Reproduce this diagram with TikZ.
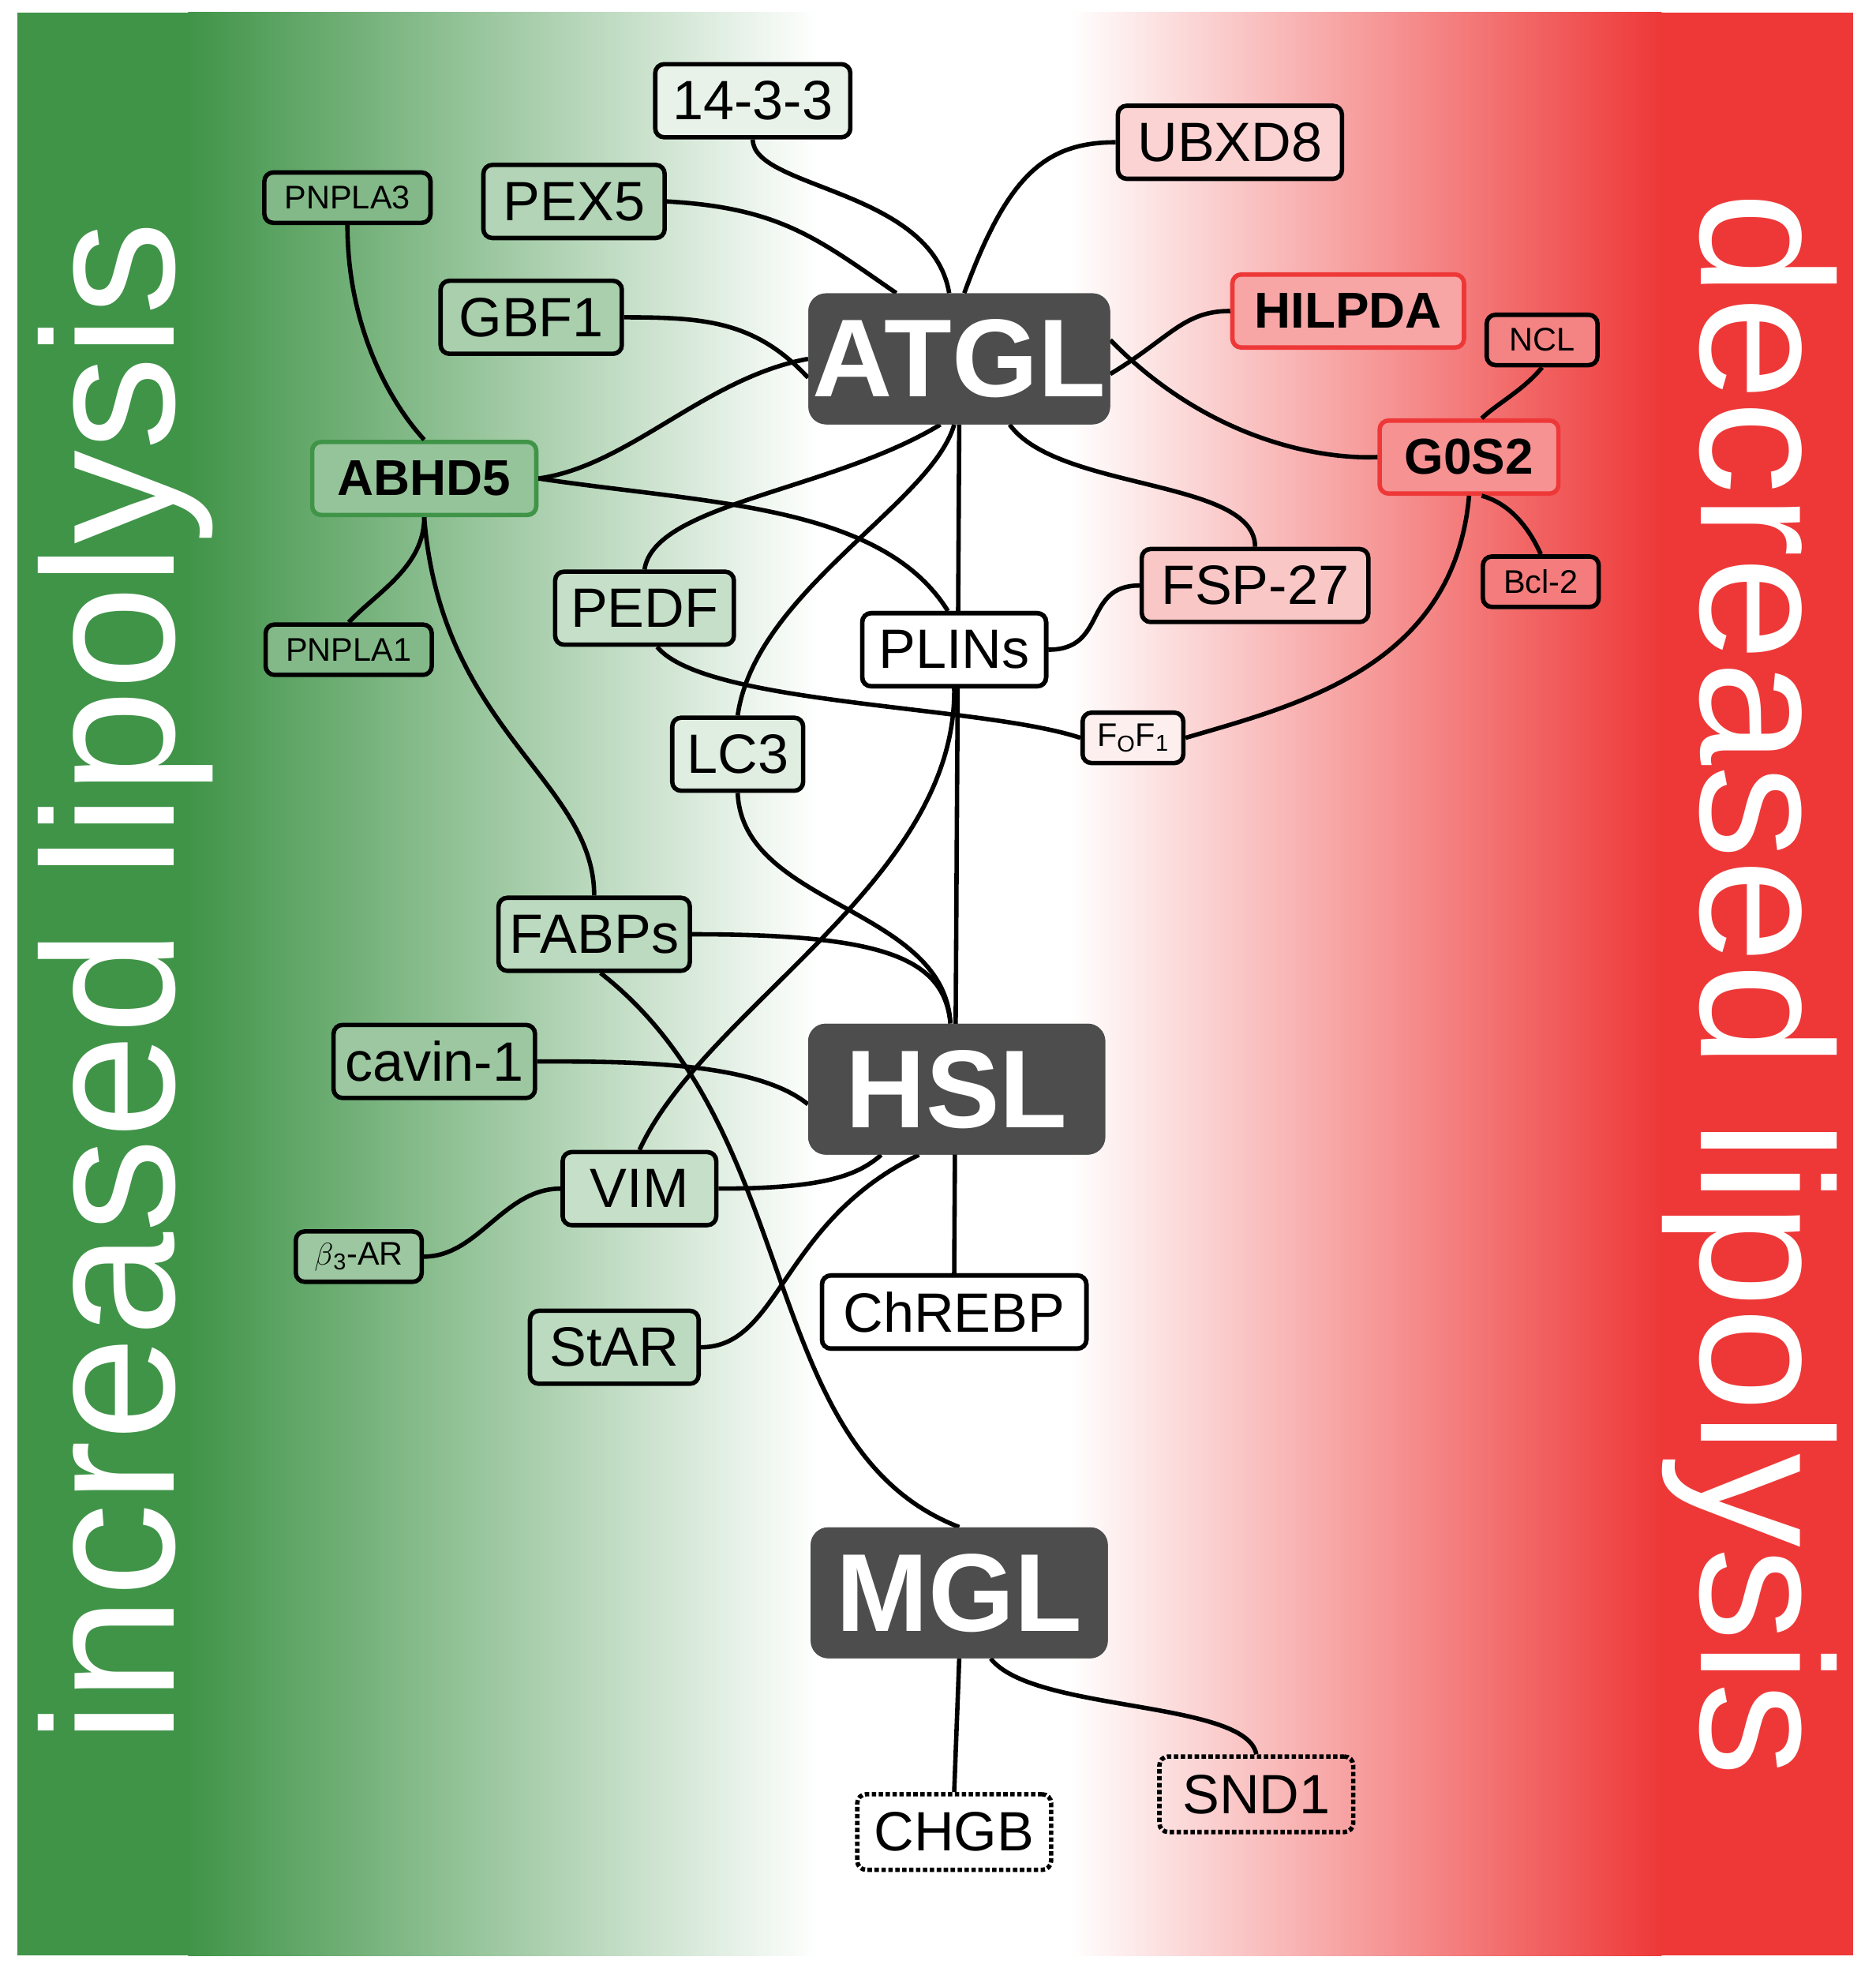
\documentclass[tikz,border=0pt]{standalone}
\usepackage{fontspec}
\setmainfont{Liberation Sans}
\definecolor{gg}{RGB}{64,148,72}
\definecolor{rr}{RGB}{238,56,56}
\definecolor{dk}{RGB}{77,77,77}
\tikzset{
 bx/.style={draw=black,line width=3.5pt,rounded corners=7pt,minimum height=58pt,inner sep=0pt,font=\fontsize{44}{44}\selectfont},
 sm/.style={bx,minimum height=40pt,font=\fontsize{26}{26}\selectfont},
 big/.style={fill=dk,draw=none,rounded corners=14pt,minimum width=236pt,minimum height=104pt,text=white,font=\fontsize{88}{88}\selectfont\bfseries},
 ln/.style={line width=3.5pt,black},
 side/.style={text=white,font=\fontsize{149}{149}\selectfont}
}
\begin{document}
\begin{tikzpicture}[x=1pt,y=-1pt]
\useasboundingbox (0,0) rectangle (1490,1563);
\fill[white] (0,0) rectangle (1490,1563);
\fill[gg] (14,10) rectangle (150,1553);
\shade[left color=gg,right color=white] (149.5,10) rectangle (650,1553);
\fill[white] (649.5,10) rectangle (850,1553);
\shade[left color=white,right color=rr] (849.5,10) rectangle (1320,1553);
\fill[rr] (1319.5,10) rectangle (1472,1553);
\node[side,rotate=90] at (100,780) {increased lipolysis};
\node[side,rotate=-90] at (1390,782) {decreased lipolysis};
% nodes
\node[bx,fill=gg!12,minimum width=155pt] (t) at (598,80) {14-3-3};
\node[bx,fill=rr!22,minimum width=178pt] (ub) at (977,113) {UBXD8};
\node[sm,fill=gg!65,minimum width=132pt] (p3) at (276,157) {PNPLA3};
\node[bx,fill=gg!40,minimum width=144pt] (pex) at (456,160) {PEX5};
\node[bx,fill=gg!45,minimum width=144pt] (gbf) at (422,252) {GBF1};
\node[big] (atgl) at (762,285) {ATGL};
\node[bx,fill=rr!45,draw=rr,font=\fontsize{40}{40}\selectfont\bfseries,minimum width=184pt] (hil) at (1071,247) {HILPDA};
\node[sm,fill=rr!62,minimum width=88pt] (ncl) at (1225,270) {NCL};
\node[bx,fill=gg!55,draw=gg,font=\fontsize{40}{40}\selectfont\bfseries,minimum width=178pt] (ab) at (337,380) {ABHD5};
\node[bx,fill=rr!55,draw=rr,font=\fontsize{40}{40}\selectfont\bfseries,minimum width=142pt] (g0) at (1167,363) {G0S2};
\node[bx,fill=rr!28,minimum width=180pt] (fsp) at (997,465) {FSP-27};
\node[sm,fill=rr!66,minimum width=92pt] (bcl) at (1224,462) {Bcl-2};
\node[bx,fill=gg!30,minimum width=142pt] (pedf) at (512,483) {PEDF};
\node[sm,fill=gg!65,minimum width=132pt] (p1) at (277,516) {PNPLA1};
\node[bx,fill=white,minimum width=146pt] (pl) at (758,516) {PLINs};
\node[sm,fill=rr!8,minimum width=80pt] (fo) at (900,586) {F\textsubscript{O}F\textsubscript{1}};
\node[bx,fill=gg!16,minimum width=104pt] (lc) at (586,599) {LC3};
\node[bx,fill=gg!35,minimum width=152pt] (fab) at (472,742) {FABPs};
\node[big] (hsl) at (760,865) {HSL};
\node[bx,fill=gg!52,minimum width=160pt] (cav) at (345,843) {cavin-1};
\node[bx,fill=gg!30,minimum width=122pt] (vim) at (508,944) {VIM};
\node[sm,fill=gg!52,minimum width=100pt] (b3) at (285,998) {$\beta$\textsubscript{3}-AR};
\node[bx,fill=white,minimum width=210pt] (chr) at (758,1042) {ChREBP};
\node[bx,fill=gg!35,minimum width=134pt] (star) at (488,1070) {StAR};
\node[big] (mgl) at (762,1265) {MGL};
\node[bx,dotted,minimum width=154pt,minimum height=60pt] (snd) at (998,1425) {SND1};
\node[bx,dotted,minimum width=154pt,minimum height=60pt] (chg) at (758,1455) {CHGB};
% edges
\begin{scope}[on background layer/.style={}]
\end{scope}
\begin{pgfonlayer}{main}\end{pgfonlayer}
\draw[ln] (atgl.south) -- (chr.north);
\draw[ln] (t.south) .. controls (598,150) and (740,150) .. ([xshift=-8pt]atgl.north);
\draw[ln] ([xshift=4pt]atgl.north) .. controls (800,140) and (830,113) .. (ub.west);
\draw[ln] (pex.east) .. controls (620,165) and (650,190) .. ([xshift=-50pt]atgl.north);
\draw[ln] (gbf.east) .. controls (560,252) and (600,255) .. ([yshift=-15pt]atgl.west);
\draw[ln] (hil.west) .. controls (940,247) and (930,268) .. ([yshift=-12pt]atgl.east);
\draw[ln] ([yshift=15pt]atgl.east) .. controls (960,350) and (1050,365) .. (g0.west);
\draw[ln] ([xshift=40pt]atgl.south) .. controls (840,390) and (997,380) .. (fsp.north);
\draw[ln] (atgl.west) .. controls (560,300) and (500,370) .. (ab.east);
\draw[ln] ([xshift=-15pt]atgl.south) .. controls (660,390) and (520,400) .. (pedf.north);
\draw[ln] ([xshift=-4pt]atgl.south) .. controls (740,400) and (600,470) .. (lc.north);
\draw[ln] (ab.east) .. controls (560,400) and (700,400) .. ([xshift=-5pt]pl.north);
\draw[ln] (p3.south) .. controls (276,260) and (310,320) .. (ab.north);
\draw[ln] (p1.north) .. controls (300,470) and (337,450) .. (ab.south);
\draw[ln] (ab.south) .. controls (350,580) and (472,620) .. (fab.north);
\draw[ln] (ncl.south) .. controls (1210,310) and (1190,320) .. ([xshift=10pt]g0.north);
\draw[ln] (bcl.north) .. controls (1215,420) and (1200,400) .. ([xshift=10pt]g0.south);
\draw[ln] (g0.south) .. controls (1155,530) and (1030,560) .. (fo.east);
\draw[ln] ([xshift=10pt]pedf.south) .. controls (560,560) and (780,560) .. (fo.west);
\draw[ln] (pl.east) .. controls (880,516) and (860,465) .. (fsp.west);
\draw[ln] (pl.south) .. controls (760,700) and (560,800) .. (vim.north);
\draw[ln] (lc.south) .. controls (590,720) and (750,720) .. ([xshift=-5pt]hsl.north);
\draw[ln] (fab.east) .. controls (700,742) and (750,760) .. ([xshift=-5pt]hsl.north);
\draw[ln] ([xshift=5pt]fab.south) .. controls (640,900) and (600,1150) .. (mgl.north);
\draw[ln] (cav.east) .. controls (500,843) and (600,843) .. ([yshift=-12pt]hsl.west);
\draw[ln] (vim.east) .. controls (650,944) and (680,935) .. ([xshift=-60pt]hsl.south);
\draw[ln] (b3.east) .. controls (380,998) and (400,944) .. (vim.west);
\draw[ln] (star.east) .. controls (620,1070) and (620,970) .. ([xshift=-30pt]hsl.south);
\draw[ln] (mgl.south) -- (chg.north);
\draw[ln] ([xshift=25pt]mgl.south) .. controls (820,1360) and (990,1350) .. (snd.north);
% redraw nodes on top
\node[big] at (atgl) {ATGL};
\node[big] at (hsl) {HSL};
\node[big] at (mgl) {MGL};
\node[bx,fill=white,minimum width=146pt] at (pl) {PLINs};
\node[bx,fill=white,minimum width=210pt] at (chr) {ChREBP};
\end{tikzpicture}
\end{document}
